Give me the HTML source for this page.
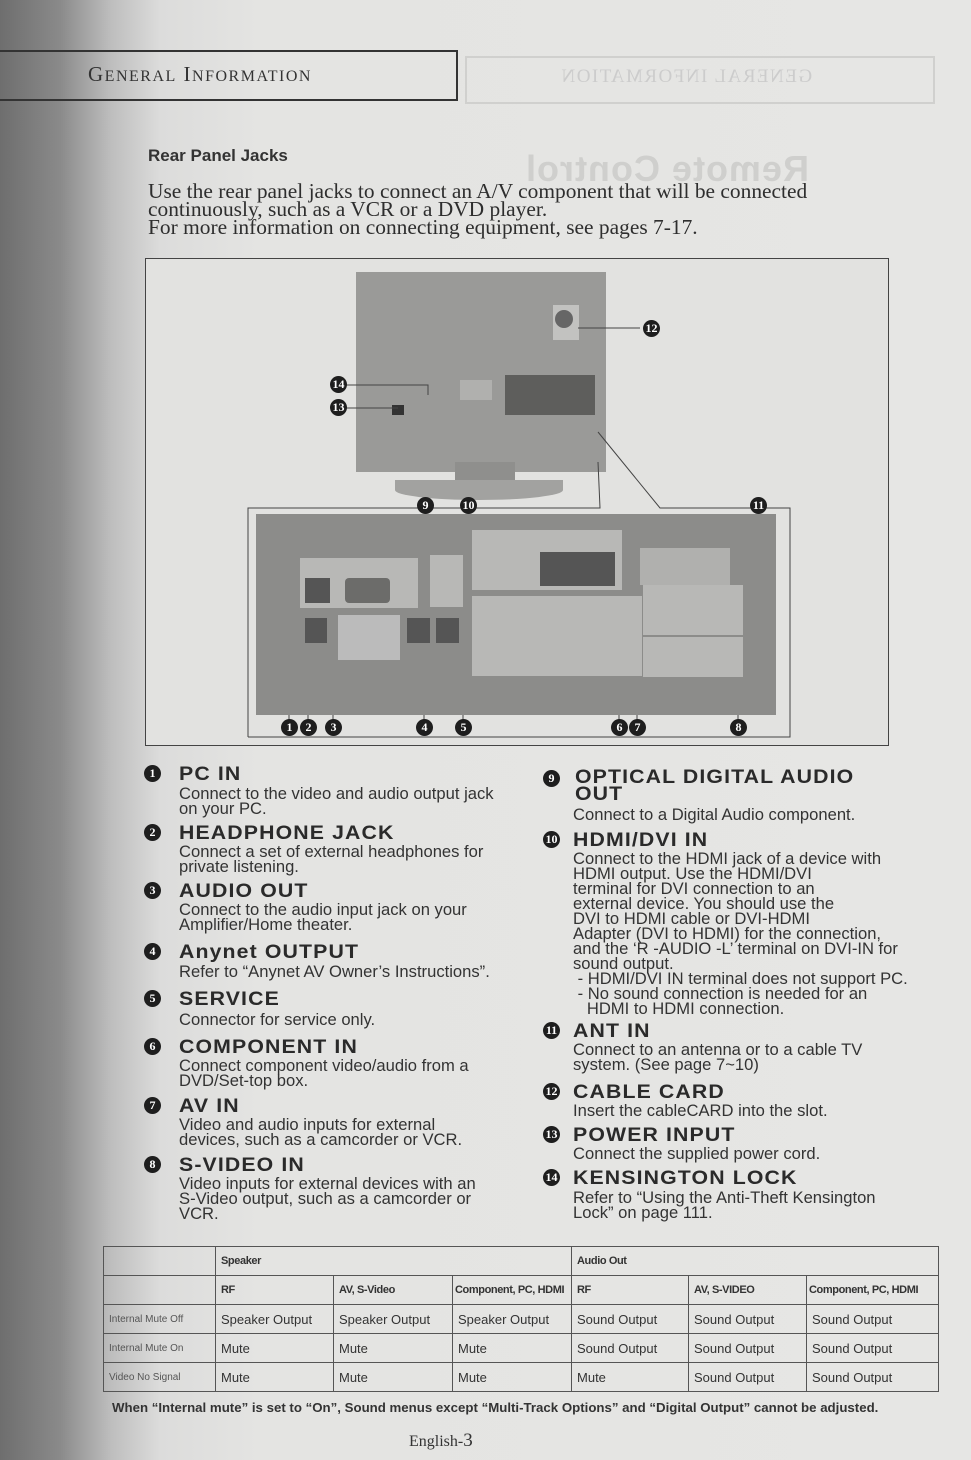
<!DOCTYPE html>
<html><head><meta charset="utf-8"><style>
*{margin:0;padding:0;box-sizing:border-box}
body{width:971px;height:1460px;position:relative;overflow:hidden;font-family:"Liberation Sans",sans-serif;color:#2a2a2a;
background:linear-gradient(to right,#6e6e6e 0px,#8a8a8a 60px,#bdbdbd 110px,#dcdcdb 160px,#e4e4e2 260px,#e6e6e4 100%)}
.a{position:absolute}
.t{font-weight:bold;font-size:19px;letter-spacing:1px;white-space:nowrap;line-height:17px;transform:scaleX(1.12);transform-origin:left}
.d{font-size:16.6px;line-height:15px;color:#333;white-space:nowrap}
.c{position:absolute;width:17px;height:17px;border-radius:50%;background:#1e1e1e;color:#fff;font-size:12px;font-weight:bold;text-align:center;line-height:17px;font-family:"Liberation Serif",serif}
table{border-collapse:collapse;font-family:"Liberation Sans",sans-serif;font-size:13px;color:#333;table-layout:fixed}
td{border:1px solid #555;padding:0 5px;height:29px;white-space:nowrap;overflow:hidden}
.h{font-size:11px;font-weight:bold;letter-spacing:-0.4px}
</style></head><body>
<div class="a" style="left:0;top:50px;width:458px;height:51px;border:2px solid #333;border-left:none"></div>
<div class="a" style="left:88px;top:62px;font-family:'Liberation Serif',serif;font-size:21px;letter-spacing:1.5px;color:#333">G<span style="font-size:16px">ENERAL</span> I<span style="font-size:16px">NFORMATION</span></div>
<div class="a" style="left:465px;top:56px;width:470px;height:48px;border:2px solid #d0d0ce"></div>
<div class="a" style="left:560px;top:66px;font-family:'Liberation Serif',serif;font-size:19px;letter-spacing:1.5px;color:#ccc;transform:scaleX(-1)">GENERAL INFORMATION</div>
<div class="a" style="left:525px;top:148px;font-size:36px;font-weight:bold;letter-spacing:1px;color:#cfcfcd;transform:scaleX(-1)">Remote Control</div>
<div class="a" style="left:148px;top:146px;font-size:17px;font-weight:bold;color:#333">Rear Panel Jacks</div>
<div class="a" style="left:148px;top:182px;font-family:'Liberation Serif',serif;font-size:21px;line-height:18px;color:#2e2e2e;white-space:nowrap;transform:scaleX(1.02);transform-origin:left">Use the rear panel jacks to connect an A/V component that will be connected<br>continuously, such as a VCR or a DVD player.<br>For more information on connecting equipment, see pages 7-17.</div>
<div class="a" style="left:145px;top:258px;width:744px;height:488px;border:1.5px solid #444;background:#e2e2e0"></div>
<div class="a" style="left:356px;top:272px;width:250px;height:200px;background:#9a9a98"></div>
<div class="a" style="left:455px;top:462px;width:60px;height:25px;background:#8f8f8d"></div>
<div class="a" style="left:395px;top:480px;width:168px;height:20px;border-radius:0 0 50% 50%;background:#a2a2a0"></div>
<div class="a" style="left:505px;top:375px;width:90px;height:40px;background:#5e5e5c"></div>
<div class="a" style="left:460px;top:380px;width:32px;height:20px;background:#b0b0ae"></div>
<div class="a" style="left:553px;top:305px;width:26px;height:35px;background:#c2c2c0"></div>
<div class="a" style="left:555px;top:310px;width:18px;height:18px;border-radius:50%;background:#666"></div>
<div class="a" style="left:392px;top:405px;width:12px;height:10px;background:#333"></div>
<svg class="a" style="left:0;top:0" width="971" height="760">
<g stroke="#444" stroke-width="1" fill="none">
<line x1="578" y1="328" x2="640" y2="328"/>
<polyline points="346,385 428,385 428,395"/>
<line x1="346" y1="408" x2="398" y2="408"/>
<polyline points="248,737 248,508 600,508 598,462"/>
<polyline points="598,432 660,508 790,508 790,737 248,737"/>
<line x1="289" y1="720" x2="289" y2="598"/><line x1="289" y1="598" x2="298" y2="598"/>
<line x1="308" y1="720" x2="308" y2="640"/>
<line x1="333" y1="720" x2="333" y2="625"/>
<line x1="424" y1="720" x2="424" y2="648"/>
<line x1="463" y1="720" x2="463" y2="618"/>
<line x1="425" y1="514" x2="425" y2="600"/>
<line x1="468" y1="514" x2="468" y2="560"/>
<line x1="758" y1="514" x2="758" y2="578"/>
<line x1="619" y1="720" x2="619" y2="660"/><line x1="637" y1="720" x2="637" y2="620"/>
<line x1="738" y1="720" x2="738" y2="660"/>
</g></svg>
<div class="a" style="left:256px;top:514px;width:520px;height:201px;background:#8c8c8a"></div>
<div class="a" style="left:300px;top:558px;width:118px;height:50px;background:#b8b8b6"></div>
<div class="a" style="left:345px;top:578px;width:45px;height:25px;background:#6c6c6a;border-radius:4px"></div>
<div class="a" style="left:305px;top:578px;width:25px;height:25px;background:#555"></div>
<div class="a" style="left:305px;top:618px;width:22px;height:25px;background:#555"></div>
<div class="a" style="left:338px;top:615px;width:62px;height:45px;background:#bbb"></div>
<div class="a" style="left:407px;top:618px;width:23px;height:25px;background:#555"></div>
<div class="a" style="left:436px;top:618px;width:23px;height:25px;background:#555"></div>
<div class="a" style="left:430px;top:555px;width:33px;height:52px;background:#b8b8b6"></div>
<div class="a" style="left:472px;top:530px;width:150px;height:60px;background:#b8b8b6"></div>
<div class="a" style="left:540px;top:552px;width:75px;height:34px;background:#555"></div>
<div class="a" style="left:472px;top:596px;width:170px;height:80px;background:#b8b8b6"></div>
<div class="a" style="left:640px;top:548px;width:90px;height:37px;background:#b0b0ae"></div>
<div class="a" style="left:643px;top:585px;width:100px;height:50px;background:#b8b8b6"></div>
<div class="a" style="left:643px;top:637px;width:100px;height:40px;background:#b8b8b6"></div>
<div class="c" style="left:643px;top:320px">12</div>
<div class="c" style="left:330px;top:376px">14</div>
<div class="c" style="left:330px;top:399px">13</div>
<div class="c" style="left:417px;top:497px">9</div>
<div class="c" style="left:460px;top:497px">10</div>
<div class="c" style="left:750px;top:497px">11</div>
<div class="c" style="left:281px;top:719px">1</div>
<div class="c" style="left:300px;top:719px">2</div>
<div class="c" style="left:325px;top:719px">3</div>
<div class="c" style="left:416px;top:719px">4</div>
<div class="c" style="left:455px;top:719px">5</div>
<div class="c" style="left:611px;top:719px">6</div>
<div class="c" style="left:629px;top:719px">7</div>
<div class="c" style="left:730px;top:719px">8</div>
<div class="c" style="left:144px;top:765px">1</div><div class="a t" style="left:179px;top:766px">PC IN</div>
<div class="a d" style="left:179px;top:786px">Connect to the video and audio output jack<br>on your PC.</div>
<div class="c" style="left:144px;top:824px">2</div><div class="a t" style="left:179px;top:825px">HEADPHONE JACK</div>
<div class="a d" style="left:179px;top:844px">Connect a set of external headphones for<br>private listening.</div>
<div class="c" style="left:144px;top:882px">3</div><div class="a t" style="left:179px;top:883px">AUDIO OUT</div>
<div class="a d" style="left:179px;top:902px">Connect to the audio input jack on your<br>Amplifier/Home theater.</div>
<div class="c" style="left:144px;top:943px">4</div><div class="a t" style="left:179px;top:944px">Anynet OUTPUT</div>
<div class="a d" style="left:179px;top:964px">Refer to “Anynet AV Owner’s Instructions”.</div>
<div class="c" style="left:144px;top:990px">5</div><div class="a t" style="left:179px;top:991px">SERVICE</div>
<div class="a d" style="left:179px;top:1012px">Connector for service only.</div>
<div class="c" style="left:144px;top:1038px">6</div><div class="a t" style="left:179px;top:1039px">COMPONENT IN</div>
<div class="a d" style="left:179px;top:1058px">Connect component video/audio from a<br>DVD/Set-top box.</div>
<div class="c" style="left:144px;top:1097px">7</div><div class="a t" style="left:179px;top:1098px">AV IN</div>
<div class="a d" style="left:179px;top:1117px">Video and audio inputs for external<br>devices, such as a camcorder or VCR.</div>
<div class="c" style="left:144px;top:1156px">8</div><div class="a t" style="left:179px;top:1157px">S-VIDEO IN</div>
<div class="a d" style="left:179px;top:1176px">Video inputs for external devices with an<br>S-Video output, such as a camcorder or<br>VCR.</div>
<div class="c" style="left:543px;top:770px">9</div><div class="a t" style="left:575px;top:769px">OPTICAL DIGITAL AUDIO<br>OUT</div>
<div class="a d" style="left:573px;top:807px">Connect to a Digital Audio component.</div>
<div class="c" style="left:543px;top:831px">10</div><div class="a t" style="left:573px;top:832px">HDMI/DVI IN</div>
<div class="a d" style="left:573px;top:851px">Connect to the HDMI jack of a device with<br>HDMI output. Use the HDMI/DVI<br>terminal for DVI connection to an<br>external device. You should use the<br>DVI to HDMI cable or DVI-HDMI<br>Adapter (DVI to HDMI) for the connection,<br>and the ‘R -AUDIO -L’ terminal on DVI-IN for<br>sound output.<br>&nbsp;- HDMI/DVI IN terminal does not support PC.<br>&nbsp;- No sound connection is needed for an<br>&nbsp;&nbsp;&nbsp;HDMI to HDMI connection.</div>
<div class="c" style="left:543px;top:1022px">11</div><div class="a t" style="left:573px;top:1023px">ANT IN</div>
<div class="a d" style="left:573px;top:1042px">Connect to an antenna or to a cable TV<br>system. (See page 7~10)</div>
<div class="c" style="left:543px;top:1083px">12</div><div class="a t" style="left:573px;top:1084px">CABLE CARD</div>
<div class="a d" style="left:573px;top:1103px">Insert the cableCARD into the slot.</div>
<div class="c" style="left:543px;top:1126px">13</div><div class="a t" style="left:573px;top:1127px">POWER INPUT</div>
<div class="a d" style="left:573px;top:1146px">Connect the supplied power cord.</div>
<div class="c" style="left:543px;top:1169px">14</div><div class="a t" style="left:573px;top:1170px">KENSINGTON LOCK</div>
<div class="a d" style="left:573px;top:1190px">Refer to “Using the Anti-Theft Kensington<br>Lock” on page 111.</div>
<table class="a" style="left:103px;top:1246px;width:835px">
<colgroup><col style="width:112px"><col style="width:118px"><col style="width:119px"><col style="width:119px"><col style="width:117px"><col style="width:118px"><col style="width:132px"></colgroup>
<tr class="h"><td></td><td colspan="3">Speaker</td><td colspan="3">Audio Out</td></tr>
<tr class="h"><td></td><td>RF</td><td>AV, S-Video</td><td style="padding:0 2px">Component, PC, HDMI</td><td>RF</td><td>AV, S-VIDEO</td><td style="padding:0 2px">Component, PC, HDMI</td></tr>
<tr><td style="font-size:10px;color:#555">Internal Mute Off</td><td>Speaker Output</td><td>Speaker Output</td><td>Speaker Output</td><td>Sound Output</td><td>Sound Output</td><td>Sound Output</td></tr>
<tr><td style="font-size:10px;color:#555">Internal Mute On</td><td>Mute</td><td>Mute</td><td>Mute</td><td>Sound Output</td><td>Sound Output</td><td>Sound Output</td></tr>
<tr><td style="font-size:10px;color:#555">Video No Signal</td><td>Mute</td><td>Mute</td><td>Mute</td><td>Mute</td><td>Sound Output</td><td>Sound Output</td></tr>
</table>
<div class="a" style="left:112px;top:1401px;font-size:12.5px;font-weight:bold;white-space:nowrap;color:#333;transform:scaleX(1.06);transform-origin:left">When “Internal mute” is set to “On”, Sound menus except “Multi-Track Options” and “Digital Output” cannot be adjusted.</div>
<div class="a" style="left:409px;top:1430px;font-family:'Liberation Serif',serif;font-size:16px;color:#333">English-<span style="font-size:19px">3</span></div>
</body></html>
